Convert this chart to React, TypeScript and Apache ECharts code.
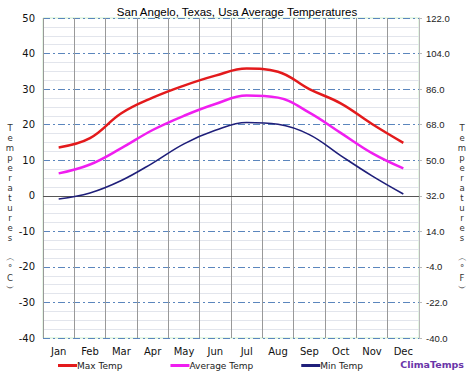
import React, { useEffect, useRef } from "react";
import * as echarts from "echarts";

const months = ["Jan", "Feb", "Mar", "Apr", "May", "Jun", "Jul", "Aug", "Sep", "Oct", "Nov", "Dec"];
const maxTemp = [13.6, 16.2, 23.2, 27.6, 31.0, 33.8, 35.8, 34.9, 30.0, 26.0, 20.2, 14.9];
const avgTemp = [6.3, 8.8, 13.4, 18.5, 22.5, 25.8, 28.2, 27.6, 23.4, 17.7, 12.0, 7.7];
const minTemp = [-0.9, 0.8, 4.3, 9.2, 14.6, 18.4, 20.6, 20.1, 17.2, 11.3, 5.6, 0.5];
const titleText = "San Angelo, Texas, Usa Average Temperatures";
const leftName = ["T", "e", "m", "p", "e", "r", "a", "t", "u", "r", "e", "s", " ", "︵", "°", "C", "︶"];
const rightName = ["T", "e", "m", "p", "e", "r", "a", "t", "u", "r", "e", "s", " ", "︵", "°", "F", "︶"];

export default function App() {
  const ref = useRef<HTMLDivElement>(null);
  useEffect(() => {
    if (!ref.current) return;
    const chart = echarts.init(ref.current, null, { renderer: "svg" });
    const font = "DejaVu Sans";
    chart.setOption({
      animation: false,
      backgroundColor: "#ffffff",
      title: {
        text: titleText,
        left: "center",
        top: 1,
        textStyle: { fontFamily: "Liberation Sans", fontSize: 11.5, fontWeight: "normal", color: "#000" },
      },
      grid: {
        left: 43,
        right: 55,
        top: 18,
        bottom: 37,
        show: true,
        borderColor: "#ccefcc",
        borderWidth: 1,
        backgroundColor: "transparent",
      },
      legend: {
        left: 58,
        top: 361,
        padding: 0,
        itemWidth: 19,
        itemHeight: 3,
        itemGap: 48,
        icon: "rect",
        textStyle: { fontFamily: font, fontSize: 9, color: "#222", padding: [0, 0, 0, -5] },
        data: ["Max Temp", "Average Temp", "Min Temp"],
      },
      xAxis: {
        type: "category",
        data: months,
        boundaryGap: true,
        axisLine: { show: false },
        axisTick: { show: true, length: 5, lineStyle: { color: "#aaa" } },
        axisLabel: { fontFamily: font, fontSize: 10, color: "#111", margin: 8 },
        splitLine: {
          show: true,
          interval: 0,
          lineStyle: { color: "#999", width: 1 },
        },
      },
      yAxis: [
        {
          type: "value",
          min: -40,
          max: 50,
          interval: 10,
          position: "left",
          axisLine: { show: false },
          axisTick: { show: false },
          axisLabel: { fontFamily: font, fontSize: 10, color: "#111", margin: 8 },
          splitLine: {
            show: true,
            lineStyle: { color: "#5b86bd", width: 1, type: [7, 3, 2, 3] },
          },
          minorTick: { show: false, splitNumber: 4 },
          minorSplitLine: { show: true, lineStyle: { color: "#e2e5ec", width: 1 } },
        },
        {
          type: "value",
          min: -40,
          max: 122,
          interval: 18,
          position: "right",
          axisLine: { show: true, lineStyle: { color: "#bbb" } },
          axisTick: { show: true, length: 3, lineStyle: { color: "#bbb" } },
          axisLabel: {
            fontFamily: "Liberation Sans",
            fontSize: 9.5,
            color: "#222",
            margin: 7,
            formatter: (v: number) => v.toFixed(1),
          },
          splitLine: { show: false },
        },
      ],
      series: [
        {
          name: "Max Temp",
          type: "line",
          data: maxTemp,
          smooth: 0.4,
          symbol: "none",
          lineStyle: { color: "#e31a1c", width: 2.5 },
          itemStyle: { color: "#e31a1c" },
          z: 5,
          markLine: {
            silent: true,
            symbol: "none",
            label: { show: false },
            lineStyle: { color: "#555", width: 1, type: "solid" },
            data: [{ yAxis: 0 }],
          },
        },
        {
          name: "Average Temp",
          type: "line",
          data: avgTemp,
          smooth: 0.4,
          symbol: "none",
          lineStyle: { color: "#f01ef0", width: 2.5 },
          itemStyle: { color: "#f01ef0" },
          z: 5,
        },
        {
          name: "Min Temp",
          type: "line",
          data: minTemp,
          smooth: 0.4,
          symbol: "none",
          lineStyle: { color: "#1f1f7a", width: 1.6 },
          itemStyle: { color: "#1f1f7a" },
          z: 5,
        },
      ],
      graphic: [
        {
          type: "text",
          x: 10,
          y: 208,
          style: {
            text: leftName.join("\n"),
            fontFamily: font,
            fontSize: 8.5,
            lineHeight: 10,
            fill: "#333",
            align: "center",
            verticalAlign: "middle",
          },
        },
        {
          type: "text",
          x: 462,
          y: 208,
          style: {
            text: rightName.join("\n"),
            fontFamily: font,
            fontSize: 8.5,
            lineHeight: 10,
            fill: "#333",
            align: "center",
            verticalAlign: "middle",
          },
        },
        {
          type: "text",
          x: 464,
          y: 364,
          style: {
            text: "ClimaTemps",
            fontFamily: font,
            fontSize: 9.5,
            fontWeight: "bold",
            fill: "#6a35a8",
            align: "right",
            verticalAlign: "middle",
          },
        },
      ],
    });
    return () => chart.dispose();
  }, []);
  return <div ref={ref} style={{ position: "absolute", left: 0, top: 0, width: 474, height: 375 }} />;
}
